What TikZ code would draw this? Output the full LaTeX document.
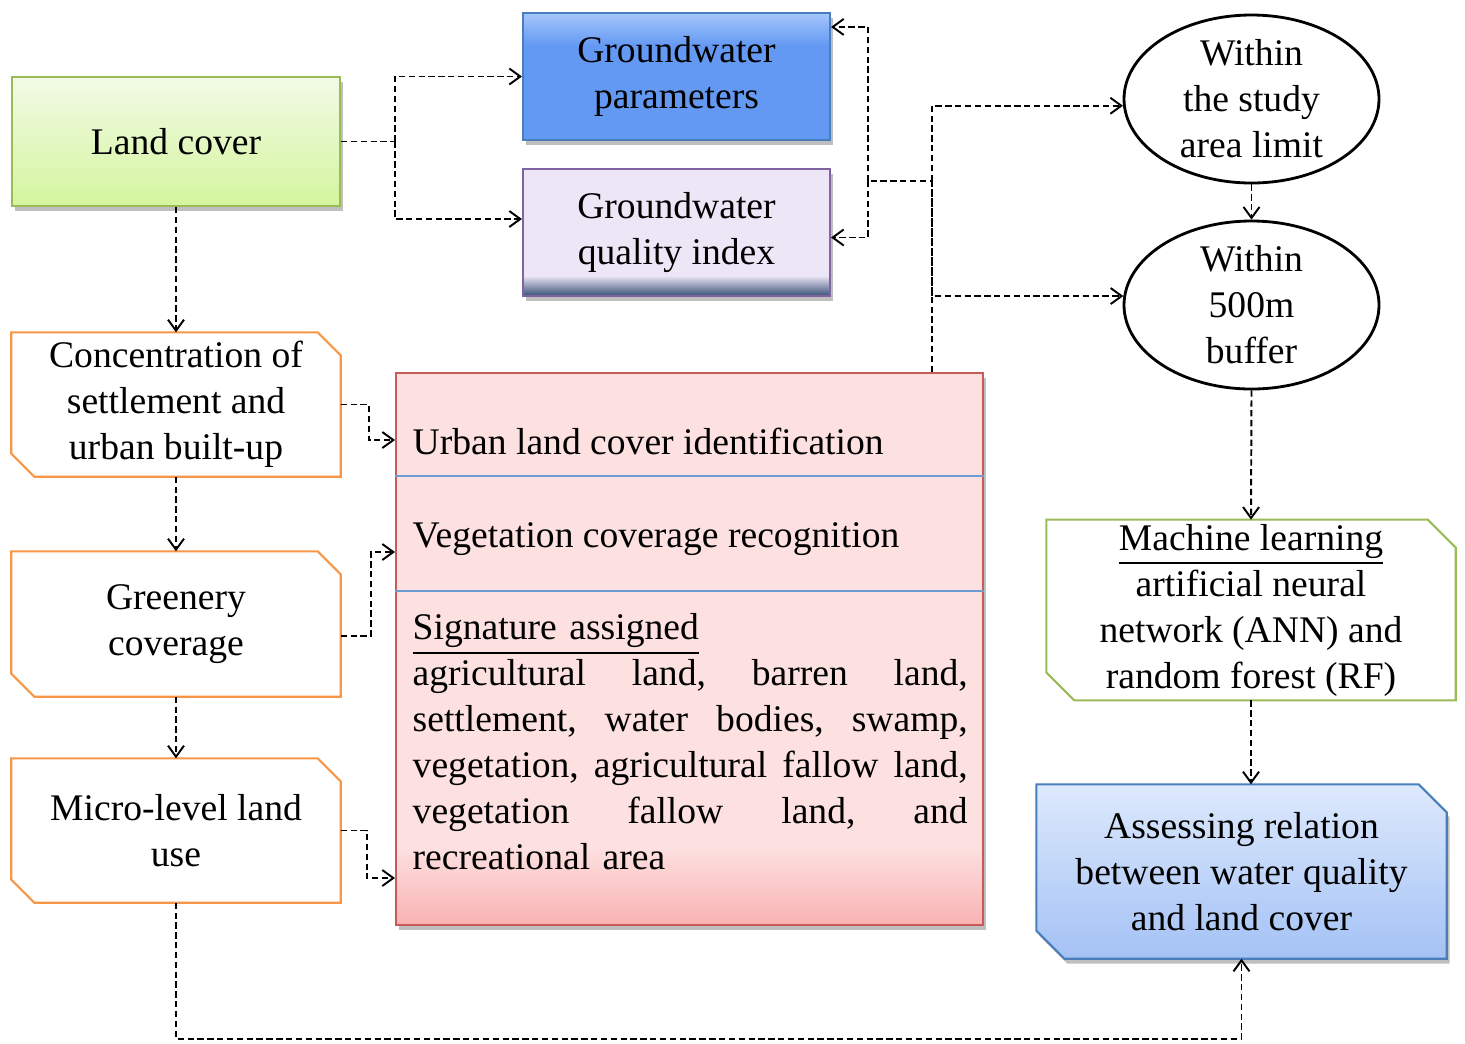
\documentclass[tikz,border=0pt]{standalone}
\usepackage{fontspec}
\setmainfont{Liberation Serif}
\usepackage{xcolor}
\usepackage{tikz}
\usetikzlibrary{arrows.meta,positioning,calc,shapes.geometric,shadows,backgrounds}
\definecolor{leafline}{RGB}{155,187,89}
\definecolor{leaftop}{RGB}{242,250,230}
\definecolor{leafbot}{RGB}{212,245,157}
\definecolor{waterline}{RGB}{74,126,187}
\definecolor{waterfill}{RGB}{99,152,243}
\definecolor{waterlight}{RGB}{165,198,251}
\definecolor{lilac}{RGB}{237,230,246}
\definecolor{lilacline}{RGB}{128,100,162}
\definecolor{navyband}{RGB}{55,80,118}
\definecolor{orangeline}{RGB}{247,150,70}
\definecolor{pinkfill}{RGB}{253,224,224}
\definecolor{pinkdeep}{RGB}{249,178,178}
\definecolor{pinkline}{RGB}{200,90,90}
\definecolor{splitline}{RGB}{107,155,210}
\definecolor{skytop}{RGB}{221,233,252}
\definecolor{skybot}{RGB}{164,194,245}
\pgfdeclareverticalshading{gwpshade}{100bp}{color(0bp)=(waterfill); color(62bp)=(waterfill); color(75bp)=(waterlight); color(100bp)=(waterlight)}
\pgfdeclareverticalshading{gwqshade}{100bp}{color(0bp)=(navyband); color(25bp)=(navyband); color(33bp)=(lilac); color(100bp)=(lilac)}
\pgfdeclareverticalshading{pinkshade}{100bp}{color(0bp)=(pinkdeep); color(25bp)=(pinkdeep); color(32bp)=(pinkfill); color(100bp)=(pinkfill)}
\tikzset{
  fc font/.style={font=\fontsize{10.7}{13.1}\selectfont},
  fc box/.style={rectangle,draw,line width=0.6pt,align=center,inner sep=1pt,fc font},
  fc shadow/.style={drop shadow={shadow xshift=0.3mm,shadow yshift=-0.5mm,opacity=0.25,fill=black}},
  fc slot/.style={rectangle,draw=none,align=center,inner sep=1pt,fc font},
  fc snip/.style={line width=0.6pt},
  fc oval/.style={ellipse,draw,line width=0.8pt,fill=white,align=center,inner sep=0pt,fc font},
  fc text/.style={fc font,inner sep=0pt},
  fc split/.style={draw=splitline,line width=0.8pt},
  fc link/.style={line width=0.55pt,dash pattern=on 1.8pt off 1pt},
  fc arrow/.style={fc link,-{Straight Barb[length=1.1mm,width=1.6mm]}}
}
\newcommand{\snipframe}[3][]{%
  \path[fc snip,#1] (#2.north west) -- ([xshift=-#3]#2.north east) -- ([yshift=-#3]#2.north east)
    -- (#2.south east) -- ([xshift=#3]#2.south west) -- ([yshift=#3]#2.south west) -- cycle;}
\begin{document}
\begin{tikzpicture}[x=0.1mm,y=-0.1mm]
  \useasboundingbox (0,0) rectangle (1465,1043);
  \node[fc box,fc shadow,draw=leafline,top color=leaftop,bottom color=leafbot,minimum width=32.8mm,minimum height=12.9mm] (lc) at (176,141.5) {Land cover};
  \node[fc box,fc shadow,draw=waterline,shading=gwpshade,minimum width=30.7mm,minimum height=12.7mm] (gwp) at (676.5,76.5) {Groundwater\\parameters};
  \node[fc box,fc shadow,draw=lilacline,shading=gwqshade,minimum width=30.7mm,minimum height=12.7mm] (gwq) at (676.5,232.5) {Groundwater\\quality index};
  \node[fc slot,minimum width=32.8mm,minimum height=14.3mm] (conc) at (176,404.5) {Concentration of\\settlement and\\urban built-up};
  \node[fc slot,minimum width=32.8mm,minimum height=14.4mm] (green) at (176,624) {Greenery\\coverage};
  \node[fc slot,minimum width=32.8mm,minimum height=14.3mm] (micro) at (176,830.5) {Micro-level land\\use};
  \node[rectangle,draw=pinkline,line width=0.6pt,fc shadow,shading=pinkshade,minimum width=58.7mm,minimum height=55.2mm] (pink) at (689.5,649) {};
  \draw[fc split] (pink.west |- 0,476) -- (pink.east |- 0,476);
  \draw[fc split] (pink.west |- 0,591) -- (pink.east |- 0,591);
  \node[fc text,anchor=base west] (urban) at (412,454) {Urban land cover identification};
  \node[fc text,anchor=base west] (veg) at (412,547) {Vegetation coverage recognition};
  \node[fc text,anchor=west,text width=55.5mm,align=left] (sig) at (412,742) {\underline{Signature assigned}\\
    \makebox[55.5mm][s]{agricultural\hfill land,\hfill barren\hfill land,}\\
    \makebox[55.5mm][s]{settlement,\hfill water\hfill bodies,\hfill swamp,}\\
    \makebox[55.5mm][s]{vegetation,\hfill agricultural\hfill fallow\hfill land,}\\
    \makebox[55.5mm][s]{vegetation\hfill fallow\hfill land,\hfill and}\\
    recreational area};
  \node[fc oval,minimum width=25.5mm,minimum height=16.8mm] (e1) at (1251.5,99) {Within\\the study\\area limit};
  \node[fc oval,minimum width=25.5mm,minimum height=16.8mm] (e2) at (1251.5,305) {Within\\500m\\buffer};
  \node[fc slot,minimum width=40.8mm,minimum height=17.2mm] (ml) at (1251,610) {\underline{Machine learning}\\artificial neural\\network (ANN) and\\random forest (RF)};
  \node[fc slot,minimum width=40.9mm,minimum height=17.3mm] (assess) at (1241.5,871.5) {Assessing relation\\between water quality\\and land cover};
  \begin{pgfonlayer}{background}
    \snipframe[draw=orangeline,fill=white]{conc}{2.3mm}
    \snipframe[draw=orangeline,fill=white]{green}{2.3mm}
    \snipframe[draw=orangeline,fill=white]{micro}{2.3mm}
    \snipframe[draw=leafline,fill=white]{ml}{2.8mm}
    \snipframe[fc shadow,draw=waterline,top color=skytop,bottom color=skybot]{assess}{2.8mm}
  \end{pgfonlayer}
  \coordinate (lcfork) at (395,141.5);
  \draw[fc link] (lc.east) -- (lcfork);
  \draw[fc arrow] (lcfork) |- (gwp.west);
  \draw[fc arrow] (lcfork) |- ($(gwq.west)+(0,-13.5)$);
  \draw[fc arrow] (lc.south) -- (conc.north);
  \draw[fc arrow] (conc.south) -- (green.north);
  \draw[fc arrow] (green.south) -- (micro.north);
  \draw[fc arrow] (conc.east) -- ++(28,0) |- (pink.west |- 0,440);
  \draw[fc arrow] ($(green.east)+(0,12)$) -- ++(30,0) |- (pink.west |- 0,552);
  \draw[fc arrow] (micro.east) -- ++(26,0) |- (pink.west |- 0,878);
  \draw[fc arrow] (micro.south) -- ++(0,136) -| (assess.south);
  \coordinate (hub) at (932,181);
  \coordinate (gwfork) at (868,181);
  \draw[fc link] (pink.north -| hub) -- (hub) -- (gwfork);
  \draw[fc arrow] (hub) |- (e1.183);
  \draw[fc arrow] (hub) |- (e2.176);
  \draw[fc arrow] (gwfork) |- ($(gwp.north east)+(0,15)$);
  \draw[fc arrow] (gwfork) |- ($(gwq.east)+(0,5)$);
  \draw[fc arrow] (e1.south) -- (e2.north);
  \draw[fc arrow] (e2.south) -- (ml.north);
  \draw[fc arrow] (ml.south) -- (ml.south |- assess.north);
\end{tikzpicture}
\end{document}
